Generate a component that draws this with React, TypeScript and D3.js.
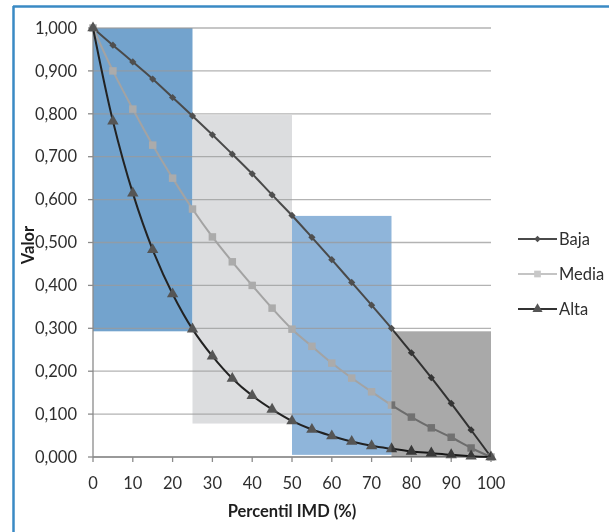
import React from "react";
import * as d3 from "d3";

const percentiles = [0, 5, 10, 15, 20, 25, 30, 35, 40, 45, 50, 55, 60, 65, 70, 75, 80, 85, 90, 95, 100];
const baja = [1, 0.96, 0.921, 0.881, 0.838, 0.795, 0.751, 0.706, 0.66, 0.611, 0.563, 0.512, 0.46, 0.407, 0.354, 0.3, 0.243, 0.185, 0.125, 0.063, 0];
const media = [1, 0.9, 0.811, 0.727, 0.65, 0.578, 0.513, 0.455, 0.4, 0.347, 0.298, 0.258, 0.219, 0.184, 0.152, 0.121, 0.093, 0.068, 0.046, 0.021, 0];
const alta = [1, 0.783, 0.615, 0.483, 0.38, 0.298, 0.235, 0.183, 0.143, 0.111, 0.084, 0.064, 0.049, 0.036, 0.026, 0.019, 0.013, 0.009, 0.005, 0.002, 0];

const bandStart = [0, 25, 50, 75];
const bandEnd = [25, 50, 75, 100];
const bandTop = [1.0, 0.797, 0.562, 0.293];
const bandBottom = [0.293, 0.078, 0.005, 0];
const bandColor = ["#73a3cd", "#dcdddf", "#8fb5da", "#a9a9a9"];

const xTicks = [0, 10, 20, 30, 40, 50, 60, 70, 80, 90, 100];
const yTicks = [0, 0.1, 0.2, 0.3, 0.4, 0.5, 0.6, 0.7, 0.8, 0.9, 1.0];

const seriesNames = ["Baja", "Media", "Alta"];

const W = 609;
const H = 532;
const FONT = "Lato, 'Open Sans', sans-serif";

export default function App() {
  const x = d3.scaleLinear().domain([0, 100]).range([93, 491]);
  const y = d3.scaleLinear().domain([0, 1]).range([457, 28]);
  const fmt = (v: number) => d3.format(".3f")(v).replace(".", ",");

  const series = [
    { name: seriesNames[0], values: baja, line: "#4a4a4a", width: 2, marker: "#4f4f4f", sym: d3.symbolSquare, size: 26, rot: 45, legendLine: "#4a4a4a" },
    { name: seriesNames[1], values: media, line: "#a3a3a3", width: 2, marker: "#ababab", sym: d3.symbolSquare, size: 56, rot: 0, legendLine: "#c4c4c4" },
    { name: seriesNames[2], values: alta, line: "#222222", width: 2, marker: "#555555", sym: d3.symbolTriangle, size: 56, rot: 0, legendLine: "#333333" },
  ];

  const lineGen = (vals: number[]) =>
    d3
      .line<number>()
      .x((_, i) => x(percentiles[i]))
      .y((v) => y(v))
      .curve(d3.curveCatmullRom.alpha(0.5))(vals) as string;

  const legendY = [239, 274, 309];

  return (
    <svg width={W} height={H} style={{ position: "absolute", left: 0, top: 0 }} fontFamily={FONT}>
      <rect x={0} y={0} width={W} height={H} fill="#ffffff" />
      <line x1={13.5} y1={6} x2={13.5} y2={H} stroke="#3a8ac4" strokeWidth={2.5} />
      <line x1={13} y1={6.5} x2={W} y2={6.5} stroke="#3a8ac4" strokeWidth={2.5} />

      {bandStart.slice(0, 3).map((s, i) => (
        <rect
          key={"b" + i}
          x={x(s)}
          y={y(bandTop[i])}
          width={x(bandEnd[i]) - x(s)}
          height={y(bandBottom[i]) - y(bandTop[i])}
          fill={bandColor[i]}
        />
      ))}

      {yTicks.map((t) => (
        <line
          key={"g" + t}
          x1={x(0)}
          x2={t < bandTop[3] ? x(bandStart[3]) : x(100)}
          y1={y(t)}
          y2={y(t)}
          stroke="#9a9a9a"
          strokeOpacity={0.75}
          strokeWidth={1.3}
        />
      ))}

      <line x1={x(0)} x2={x(0)} y1={y(0)} y2={y(1)} stroke="#8a8a8a" strokeWidth={1.3} />
      <line x1={x(0)} x2={x(100)} y1={y(0)} y2={y(0)} stroke="#8a8a8a" strokeWidth={1.3} />
      {yTicks.map((t) => (
        <g key={"yt" + t}>
          <line x1={x(0) - 5} x2={x(0)} y1={y(t)} y2={y(t)} stroke="#8a8a8a" strokeWidth={1.3} />
          <text x={77} y={y(t)} dy="0.35em" textAnchor="end" fontSize={16.5} fill="#2e2e2e">
            {fmt(t)}
          </text>
        </g>
      ))}
      {xTicks.map((t) => (
        <g key={"xt" + t}>
          <line x1={x(t)} x2={x(t)} y1={y(0)} y2={y(0) + 5} stroke="#8a8a8a" strokeWidth={1.3} />
          <text x={x(t)} y={489} textAnchor="middle" fontSize={16.5} fill="#2e2e2e">
            {t}
          </text>
        </g>
      ))}

      {series.map((s) => (
        <g key={s.name}>
          <path d={lineGen(s.values)} fill="none" stroke={s.line} strokeWidth={s.width} />
          {s.values.map((v, i) => (
            <path
              key={i}
              d={d3.symbol().type(s.sym).size(s.size)() as string}
              transform={`translate(${x(percentiles[i])},${y(v)}) rotate(${s.rot})`}
              fill={s.marker}
            />
          ))}
        </g>
      ))}

      <rect
        x={x(bandStart[3])}
        y={y(bandTop[3])}
        width={x(bandEnd[3]) - x(bandStart[3])}
        height={y(bandBottom[3]) - y(bandTop[3])}
        fill={bandColor[3]}
        style={{ mixBlendMode: "multiply" }}
      />

      <text x={292} y={517} textAnchor="middle" fontSize={16.5} fontWeight="bold" fill="#1e1e1e">
        Percentil IMD (%)
      </text>
      <text
        transform={`translate(34,${245}) rotate(-90)`}
        textAnchor="middle"
        fontSize={16.5}
        fontWeight="bold"
        fill="#1e1e1e"
      >
        Valor
      </text>

      {series.map((s, i) => (
        <g key={"lg" + s.name}>
          <line x1={518} x2={557} y1={legendY[i]} y2={legendY[i]} stroke={s.legendLine} strokeWidth={2.2} />
          <path
            d={d3.symbol().type(s.sym).size(s.size * 0.8)() as string}
            transform={`translate(537.5,${legendY[i]}) rotate(${s.rot})`}
            fill={i === 1 ? "#c8c8c8" : s.marker}
          />
          <text x={559} y={legendY[i]} dy="0.35em" fontSize={16.5} fill="#2e2e2e">
            {s.name}
          </text>
        </g>
      ))}
    </svg>
  );
}
